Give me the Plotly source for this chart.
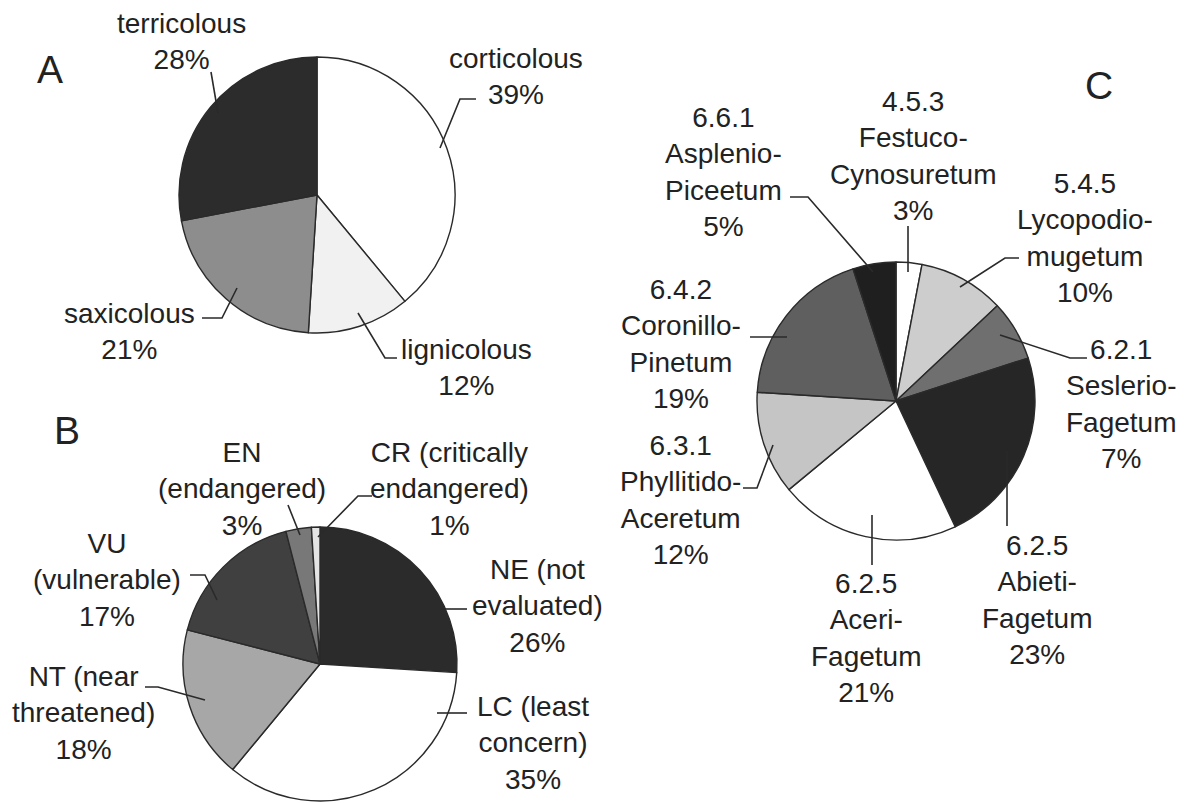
import plotly.graph_objects as go

W, H = 1189, 803

# ---------------- data ----------------
a_labels = ["corticolous", "lignicolous", "saxicolous", "terricolous"]
a_values = [39, 12, 21, 28]

b_labels = ["NE (not<br>evaluated)", "LC (least<br>concern)", "NT (near<br>threatened)",
            "VU<br>(vulnerable)", "EN<br>(endangered)", "CR (critically<br>endangered)"]
b_values = [26, 35, 18, 17, 3, 1]

c_codes = ["4.5.3", "5.4.5", "6.2.1", "6.2.5", "6.2.5", "6.3.1", "6.4.2", "6.6.1"]
c_names = ["Festuco-<br>Cynosuretum", "Lycopodio-<br>mugetum", "Seslerio-<br>Fagetum",
           "Abieti-<br>Fagetum", "Aceri-<br>Fagetum", "Phyllitido-<br>Aceretum",
           "Coronillo-<br>Pinetum", "Asplenio-<br>Piceetum"]
c_values = [3, 10, 7, 23, 21, 12, 19, 5]

# ---------------- styles / layout ----------------
a_colors = ["#ffffff", "#f1f1f1", "#8d8d8d", "#2c2c2c"]
b_colors = ["#2b2b2b", "#ffffff", "#a7a7a7", "#404040", "#787878", "#e4e4e4"]
c_colors = ["#ffffff", "#cdcdcd", "#6f6f6f", "#262626", "#ffffff", "#c5c5c5", "#5f5f5f", "#1f1f1f"]

# pie centre (px) and radius (px)
pies = {
    "A": dict(cx=317, cy=195, r=138),
    "B": dict(cx=320, cy=664, r=137),
    "C": dict(cx=896, cy=401, r=139),
}

# label block centres and leader polylines (px)
a_pos = [(516, 77), (466, 367), (129, 331), (181, 42)]
a_lead = [[(476, 99), (460, 99), (440, 148)],
          [(397, 358), (385, 358), (358, 313)],
          [(202, 318), (222, 318), (237, 288)],
          [(211, 72), (218, 113)]]

b_pos = [(537, 606), (533, 743), (83, 713), (107, 580), (242, 489), (449, 489)]
b_lead = [[(467, 609), (440, 609)],
          [(467, 713), (437, 713)],
          [(145, 687), (158, 687), (205, 700)],
          [(190, 575), (205, 575), (217, 600)],
          [(288, 505), (300, 535)],
          [(372, 496), (358, 496), (318, 537)]]

c_pos = [(913, 156), (1085, 238), (1121, 404), (1037, 600), (866, 638),
         (680, 500), (681, 344), (723, 172)]
c_lead = [[(908, 226), (908, 272)],
          [(1019, 258), (1005, 258), (960, 287)],
          [(1000, 335), (1070, 358), (1087, 358)],
          [(1007, 451), (1007, 526)],
          [(872, 515), (872, 565)],
          [(743, 488), (757, 488), (773, 445)],
          [(750, 337), (787, 337)],
          [(790, 197), (808, 197), (873, 272)]]

letters = [("A", 50, 69), ("B", 67, 430), ("C", 1099, 86)]

FONT = "Liberation Sans, Arial, sans-serif"
TXT = "#222222"
LINE = "#2a2a2a"


def px(x, y):
    return x / W, 1 - y / H


def domain(p):
    return dict(x=[(p["cx"] - p["r"]) / W, (p["cx"] + p["r"]) / W],
                y=[1 - (p["cy"] + p["r"]) / H, 1 - (p["cy"] - p["r"]) / H])


fig = go.Figure()


def add_pie(labels, values, colors, p):
    fig.add_trace(go.Pie(
        labels=labels, values=values, sort=False, direction="clockwise", rotation=0,
        marker=dict(colors=colors, line=dict(color=LINE, width=1.4)),
        textinfo="none", hoverinfo="label+percent", showlegend=False,
        domain=domain(p)))


add_pie(a_labels, a_values, a_colors, pies["A"])
add_pie([l.replace("<br>", " ") for l in b_labels], b_values, b_colors, pies["B"])
add_pie([c + " " + n.replace("<br>", "") for c, n in zip(c_codes, c_names)], c_values, c_colors, pies["C"])

annotations = []
shapes = []


def add_label(text, pos, lead):
    x, y = px(*pos)
    annotations.append(dict(x=x, y=y, xref="paper", yref="paper", text=text,
                            showarrow=False, xanchor="center", yanchor="middle",
                            align="center", borderpad=0,
                            font=dict(family=FONT, size=28, color=TXT)))
    path = ""
    for i, (lx, ly) in enumerate(lead):
        qx, qy = px(lx, ly)
        path += ("M" if i == 0 else "L") + f"{qx:.5f},{qy:.5f} "
    shapes.append(dict(type="path", path=path.strip(), xref="paper", yref="paper",
                       line=dict(color=LINE, width=1.6), layer="above"))


for lab, v, pos, ld in zip(a_labels, a_values, a_pos, a_lead):
    add_label(f"{lab}<br>{v}%", pos, ld)
for lab, v, pos, ld in zip(b_labels, b_values, b_pos, b_lead):
    add_label(f"{lab}<br>{v}%", pos, ld)
for code, name, v, pos, ld in zip(c_codes, c_names, c_values, c_pos, c_lead):
    add_label(f"{code}<br>{name}<br>{v}%", pos, ld)

for t, lx, ly in letters:
    x, y = px(lx, ly)
    annotations.append(dict(x=x, y=y, xref="paper", yref="paper", text=t, showarrow=False,
                            xanchor="center", yanchor="middle",
                            font=dict(family=FONT, size=39, color=TXT)))

fig.update_layout(width=W, height=H, margin=dict(l=0, r=0, t=0, b=0),
                  paper_bgcolor="white", plot_bgcolor="white",
                  annotations=annotations, shapes=shapes)

fig.write_html("out.html", config={"displayModeBar": False},
               post_script="document.body.style.margin='0';")
